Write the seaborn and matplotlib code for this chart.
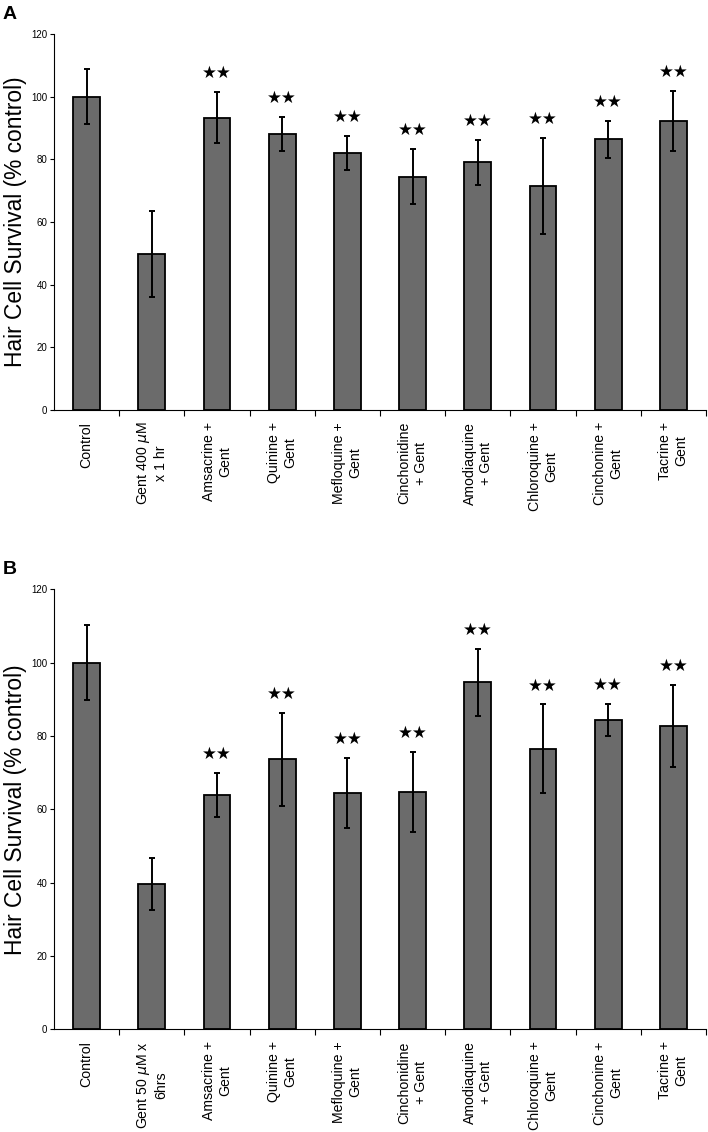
import matplotlib
matplotlib.use("Agg")
import matplotlib.pyplot as plt
import seaborn as sns
import pandas as pd
from matplotlib.ticker import FixedLocator

# panel A data
labels_a = ["Control", "Gent 400 $\\mu$M\nx 1 hr", "Amsacrine +\nGent", "Quinine +\nGent",
            "Mefloquine +\nGent", "Cinchonidine\n+ Gent", "Amodiaquine\n+ Gent",
            "Chloroquine +\nGent", "Cinchonine +\nGent", "Tacrine +\nGent"]
survival_a = [100, 49.8, 93.3, 88.0, 82.0, 74.5, 79.0, 71.6, 86.4, 92.3]
err_a = [8.8, 13.7, 8.2, 5.5, 5.5, 8.9, 7.1, 15.3, 5.9, 9.6]
sig_a = [False, False, True, True, True, True, True, True, True, True]

# panel B data
labels_b = ["Control", "Gent 50 $\\mu$M x\n6hrs", "Amsacrine +\nGent", "Quinine +\nGent",
            "Mefloquine +\nGent", "Cinchonidine\n+ Gent", "Amodiaquine\n+ Gent",
            "Chloroquine +\nGent", "Cinchonine +\nGent", "Tacrine +\nGent"]
survival_b = [100, 39.6, 64.0, 73.6, 64.4, 64.7, 94.6, 76.5, 84.4, 82.8]
err_b = [10.2, 7.1, 6.0, 12.6, 9.6, 10.9, 9.2, 12.1, 4.3, 11.2]
sig_b = [False, False, True, True, True, True, True, True, True, True]

sns.set_style("white")
plt.rcParams['font.family'] = ['Liberation Sans', 'DejaVu Sans']
plt.rcParams['mathtext.fontset'] = 'dejavusans'
plt.rcParams['text.color'] = 'black'
plt.rcParams['axes.labelcolor'] = 'black'
plt.rcParams['xtick.color'] = 'black'
plt.rcParams['ytick.color'] = 'black'

fig = plt.figure(figsize=(7.08, 11.32), dpi=100)
ax_a = fig.add_axes([0.0763, 0.6378, 0.921, 0.3322])
ax_b = fig.add_axes([0.0763, 0.0907, 0.921, 0.3887])


def draw_panel(ax, labels, vals, errs, sig):
    df = pd.DataFrame({"group": labels, "survival": vals})
    sns.barplot(data=df, x="group", y="survival", color="#6b6b6b", saturation=1,
                width=0.41, edgecolor="black", linewidth=1.3, errorbar=None, ax=ax)
    xs = range(len(labels))
    ax.errorbar(xs, vals, yerr=errs, fmt="none", ecolor="black", elinewidth=1.4,
                capsize=2, capthick=1.4)
    for x, v, e, s in zip(xs, vals, errs, sig):
        if s:
            ax.annotate("★★", xy=(x, v + e), xytext=(0, 10), textcoords="offset points",
                        ha="center", va="baseline", fontsize=12, family="DejaVu Sans")
    ax.set_xlim(-0.5, len(labels) - 0.5)
    ax.set_ylim(0, 120)
    ax.set_yticks(range(0, 121, 20))
    ax.tick_params(axis="y", labelsize=7, length=3, width=0.8, pad=2, left=True)
    ax.set_xticks(list(xs))
    ax.set_xticklabels(labels, rotation=90, fontsize=10.2, ha="center", va="top")
    ax.tick_params(axis="x", which="major", length=0, pad=8.5)
    ax.xaxis.set_minor_locator(FixedLocator([i + 0.5 for i in range(len(labels))]))
    ax.tick_params(axis="x", which="minor", length=4, width=0.8, bottom=True)
    ax.set_xlabel("")
    ax.set_ylabel("Hair Cell Survival (% control)", fontsize=16.4, labelpad=3)
    sns.despine(ax=ax)
    for sp in ("left", "bottom"):
        ax.spines[sp].set_color("black")
        ax.spines[sp].set_linewidth(0.8)


draw_panel(ax_a, labels_a, survival_a, err_a, sig_a)
draw_panel(ax_b, labels_b, survival_b, err_b, sig_b)

fig.text(0.004, 0.995, "A", fontsize=14, fontweight="bold", ha="left", va="top")
fig.text(0.004, 0.5045, "B", fontsize=14, fontweight="bold", ha="left", va="top")

fig.savefig("out.png", dpi=100)
